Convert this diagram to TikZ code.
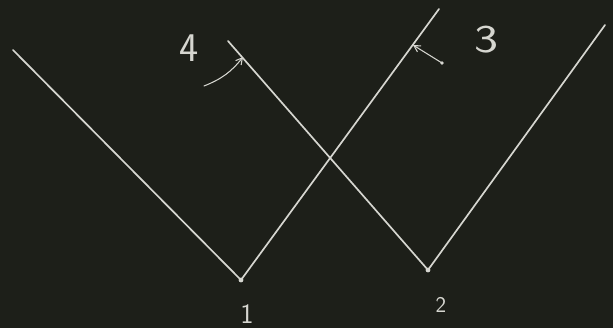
\documentclass[tikz,border=0pt]{standalone}
\usepackage{fontspec}
\usepackage{tikz}
\usetikzlibrary{arrows, arrows.meta, calc, positioning}
\definecolor{board}{RGB}{29,31,25}
\definecolor{chalk}{RGB}{214,214,208}
\tikzset{>=latex}
\tikzset{chalkline/.style={draw=chalk, line width=2.4pt, line cap=round, line join=round}}
\tikzset{chalkarrow/.style={-{Straight Barb[length=9pt, width=10pt]}, draw=chalk, line width=1.5pt, line cap=round}}
\tikzset{chalklabel/.style={text=chalk, inner sep=0pt}}

\begin{document}
\begin{tikzpicture}[x=0.05cm, y=-0.05cm]
  % board
  \fill[board] (0,0) rectangle (613,328);
  \useasboundingbox (0,0) rectangle (613,328);
  % end points and vertices
  \coordinate (a1) at (13,50);
  \coordinate (v1) at (241,280);
  \coordinate (b1) at (439,9);
  \coordinate (a2) at (228,41);
  \coordinate (v2) at (428,270);
  \coordinate (b2) at (605,25);
  % the two V's
  \draw[chalkline] (a1) -- (v1) -- (b1);
  \draw[chalkline] (a2) -- (v2) -- (b2);
  \fill[chalk] (v1) circle (2.4);
  \fill[chalk] (v2) circle (2.4);
  % labels at the vertices
  \node[chalklabel, font=\sffamily\fontsize{40}{40}\selectfont] (one) at (247,314) {1};
  \node[chalklabel, font=\sffamily\fontsize{32}{32}\selectfont] (two) at (441,305) {2};
  % arrows to the lines
  \coordinate (t4) at (204,86);
  \coordinate (h4) at (243,57);
  \coordinate (t3) at (442,63);
  \coordinate (h3) at (413,45);
  \node[chalklabel, font=\sffamily\fontsize{58}{58}\selectfont] (four) at (189,48) {4};
  \node[chalklabel, font=\sffamily\fontsize{56}{56}\selectfont, xscale=1.3] (three) at (487,40) {3};
  \draw[chalkarrow] (t4) to[bend right=15] (h4);
  \draw[chalkarrow] (t3) -- (h3);
  \fill[chalk] (t3) circle (1.8);
\end{tikzpicture}
\end{document}
